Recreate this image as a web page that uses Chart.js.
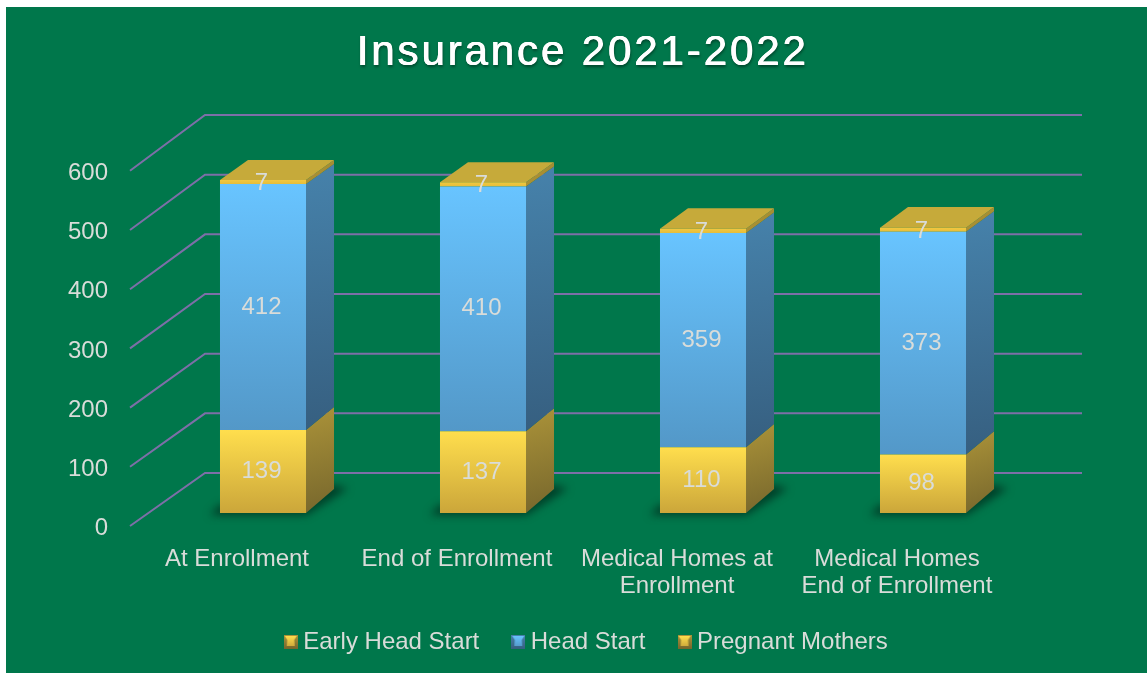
<!DOCTYPE html>
<html><head><meta charset="utf-8">
<style>html,body{margin:0;padding:0;background:#fff}canvas{display:block}</style>
<script src="https://cdn.jsdelivr.net/npm/chart.js@4/dist/chart.umd.min.js"></script>
</head><body>
<div style="width:1147px;height:673px;position:relative"><canvas id="c"></canvas></div>
<script>
const categories = ['At Enrollment','End of Enrollment',['Medical Homes at','Enrollment'],['Medical Homes','End of Enrollment']];
const earlyHeadStart = [139,137,110,98];
const headStart = [412,410,359,373];
const pregnantMothers = [7,7,7,7];
const yTicks = [0,100,200,300,400,500,600];
const seriesNames = ['Early Head Start','Head Start','Pregnant Mothers'];

const FONT = '"Liberation Sans", Arial, sans-serif';
const TXT = '#d9dcd9';
const GREEN = '#00774b';
const LINE = '#7d6fa8';
const DX = 28;
const dyAt = y => 20 + (y-180)/333*4;

function frontGrad(ctx, top, bottom, a, b){
  const g = ctx.createLinearGradient(0, top, 0, bottom);
  g.addColorStop(0,a); g.addColorStop(1,b); return g;
}
const palette = [
  {a:'#ffde4d', b:'#cba63a', sa:'#ab9339', sb:'#76662c'},
  {a:'#68c4ff', b:'#5398c8', sa:'#4682ab', sb:'#365f80'},
  {a:'#f2c83f', b:'#e6bd3a', sa:'#b09536', sb:'#a08830', top:'#c6aa3a'}
];
function icon(p){
  const c = document.createElement('canvas'); c.width = 14; c.height = 14;
  const x = c.getContext('2d');
  x.fillStyle = frontGrad(x,0,14,p.sa,p.sb); x.fillRect(0,0,14,14);
  x.fillStyle = frontGrad(x,1,12,p.a,p.b);
  x.beginPath(); x.moveTo(1,1); x.lineTo(13,1); x.lineTo(10.5,5); x.lineTo(11,11); x.lineTo(3,11); x.lineTo(3.5,5); x.closePath(); x.fill();
  return c;
}
const legendIcons = [icon(palette[0]), icon(palette[1]), icon(palette[0])];
const seriesValues = [earlyHeadStart, headStart, pregnantMothers];

function barFill(i){
  return (ctx) => {
    const ch = ctx.chart;
    if (!ch.chartArea || !ch.scales.yBar || ctx.dataIndex === undefined) return palette[i].a;
    const y = ch.scales.yBar;
    let base = 0;
    for (let k = 0; k < i; k++) base += seriesValues[k][ctx.dataIndex];
    const top = base + seriesValues[i][ctx.dataIndex];
    return frontGrad(ch.ctx, y.getPixelForValue(top), y.getPixelForValue(base), palette[i].a, palette[i].b);
  };
}

const scene = {
  id:'scene',
  beforeDraw(chart){
    const c = chart.ctx;
    c.save();
    c.fillStyle = GREEN; c.fillRect(6,7,chart.width-6,chart.height-7);
    const yF = chart.scales.y, yW = chart.scales.yWall, left = chart.scales.x.left;
    c.strokeStyle = LINE; c.lineWidth = 2; c.lineJoin = 'miter';
    yTicks.forEach(v => {
      const a = yF.getPixelForValue(v), b = yW.getPixelForValue(v);
      c.beginPath(); c.moveTo(left-23,a); c.lineTo(left+52,b); c.lineTo(left+929,b); c.stroke();
    });
    c.restore();
  },
  beforeDatasetsDraw(chart){
    const c = chart.ctx;
    const metas = chart.getSortedVisibleDatasetMetas();
    const n = metas[0].data.length;
    for (let i = 0; i < n; i++){
      const b0 = metas[0].data[i], hw = b0.width/2, l = b0.x-hw, r = b0.x+hw, bot = b0.base;
      const dB = dyAt(bot);
      c.save();
      c.filter = 'blur(4px)';
      c.fillStyle = 'rgba(0,40,25,0.75)';
      c.beginPath(); c.moveTo(l-10,bot+2); c.lineTo(r,bot+2); c.lineTo(r+DX+14,bot-dB-1); c.lineTo(r+DX-4,bot-dB-4); c.lineTo(r,bot-8); c.lineTo(l,bot-8); c.closePath(); c.fill();
      c.restore();
      metas.forEach((m,k) => {
        const b = m.data[i], p = palette[k];
        const g = c.createLinearGradient(r, b.y-dyAt(b.y), r+DX, b.base);
        g.addColorStop(0,p.sa); g.addColorStop(1,p.sb);
        c.fillStyle = g;
        c.beginPath(); c.moveTo(r,b.base); c.lineTo(r+DX,b.base-dyAt(b.base)); c.lineTo(r+DX,b.y-dyAt(b.y)); c.lineTo(r,b.y); c.closePath(); c.fill();
      });
      const t = metas[metas.length-1].data[i], dT = dyAt(t.y);
      c.fillStyle = palette[2].top;
      c.beginPath(); c.moveTo(l,t.y); c.lineTo(l+DX,t.y-dT); c.lineTo(r+DX,t.y-dT); c.lineTo(r,t.y); c.closePath(); c.fill();
    }
  },
  afterDatasetsDraw(chart){
    const c = chart.ctx;
    c.save();
    c.font = '24px ' + FONT; c.fillStyle = TXT; c.textAlign = 'center'; c.textBaseline = 'middle';
    chart.getSortedVisibleDatasetMetas().forEach((m,k) => {
      m.data.forEach((b,i) => {
        const cy = (b.y+b.base)/2 + (k === 2 ? 1.5 : 0);
        c.fillText(String(seriesValues[k][i]), b.x-1.5, cy);
      });
    });
    c.restore();
  },
  beforeLayout(chart){
    const tb = chart.titleBlock;
    if (tb && !tb._wrapped){
      const orig = tb.draw;
      tb._wrapped = true;
      tb.draw = function(){
        const c = chart.ctx; c.save();
        c.letterSpacing = '2.9px';
        c.shadowColor = 'rgba(0,0,0,0.45)'; c.shadowBlur = 3; c.shadowOffsetX = 1; c.shadowOffsetY = 1.5;
        orig.apply(this, arguments);
        c.shadowColor = '#ffffff'; c.shadowBlur = 0; c.shadowOffsetX = 0.7; c.shadowOffsetY = 0;
        orig.apply(this, arguments);
        c.restore();
      };
    }
    const lg = chart.legend;
    if (lg && !lg._wrapped){
      const orig = lg.draw;
      lg._wrapped = true;
      lg.draw = function(){
        const c = chart.ctx; c.save();
        c.translate(6.5, -6.5);
        orig.apply(this, arguments);
        c.restore();
      };
    }
  }
};

new Chart(document.getElementById('c'), {
  type:'bar',
  data:{
    labels:categories,
    datasets:seriesNames.map((name,i) => ({
      label:name, data:seriesValues[i], yAxisID:'yBar', xAxisID:'x',
      backgroundColor:barFill(i), borderWidth:0,
      categoryPercentage:1, barPercentage:0.391
    }))
  },
  plugins:[scene],
  options:{
    responsive:true, maintainAspectRatio:false, animation:false,
    layout:{padding:{left:18,right:0,top:0,bottom:2.5}},
    plugins:{
      title:{display:true, text:'Insurance 2021-2022', color:'#ffffff',
        font:{family:FONT,size:42,weight:'normal',lineHeight:1.2}, padding:{top:28.5,bottom:36.1}},
      legend:{position:'bottom', labels:{
        color:TXT, font:{family:FONT,size:24}, usePointStyle:true, pointStyleWidth:1, padding:38.5,
        generateLabels(chart){
          const list = Chart.defaults.plugins.legend.labels.generateLabels(chart);
          list.forEach((it,i) => { it.pointStyle = legendIcons[i]; it.fontColor = TXT; });
          return list;
        }
      }},
      tooltip:{enabled:false}
    },
    scales:{
      x:{type:'category', stacked:true, grid:{display:false}, border:{display:false},
        ticks:{color:TXT, font:{family:FONT,size:24,lineHeight:1.125}, maxRotation:0, minRotation:0, autoSkip:false, labelOffset:-26, padding:12},
        afterFit(s){ s.height = 72; }},
      y:{position:'left', min:0, max:694.3, grid:{display:false}, border:{display:false},
        afterBuildTicks(s){ s.ticks = yTicks.map(v => ({value:v})); },
        ticks:{color:TXT, font:{family:FONT,size:24}, padding:37, labelOffset:2.5},
        afterFit(s){ s.width = 135; }},
      yBar:{stacked:true, display:false, min:-21.8, max:666.7},
      yWall:{position:'right', min:-88.8, max:600, grid:{display:false}, border:{display:false},
        ticks:{display:false},
        afterFit(s){ s.width = 114; }}
    }
  }
});
</script>
</body></html>
